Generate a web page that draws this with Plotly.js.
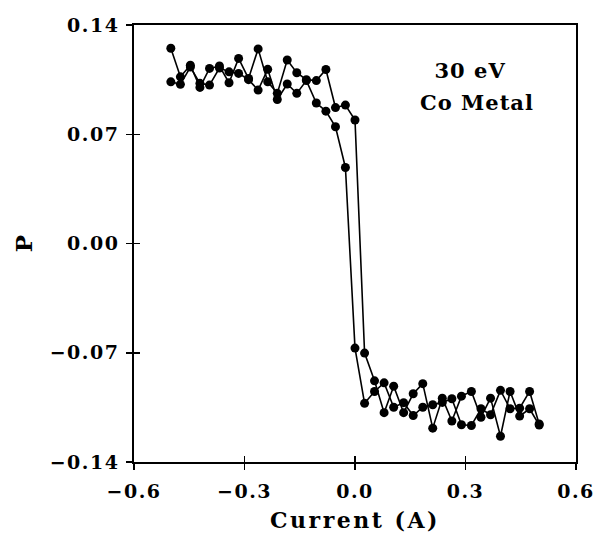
<!DOCTYPE html>
<html>
<head>
<meta charset="utf-8">
<script src="https://cdn.plot.ly/plotly-3.0.1.min.js"></script>
<style>
html,body{margin:0;padding:0;background:#fff;}
#plot{width:600px;height:535px;}
#plot .xtick text, #plot .ytick text{letter-spacing:1.5px;}
#plot .g-xtitle text{letter-spacing:2.5px;}
#plot .annotation text{letter-spacing:1px;}
</style>
</head>
<body>
<div id="plot"></div>
<script>
// Current (A) sample positions
const current = [-0.500,-0.474,-0.447,-0.421,-0.395,-0.368,-0.342,-0.316,-0.289,-0.263,
  -0.237,-0.211,-0.184,-0.158,-0.132,-0.105,-0.079,-0.053,-0.026,0.000,
  0.026,0.053,0.079,0.105,0.132,0.158,0.184,0.211,0.237,0.263,
  0.289,0.316,0.342,0.368,0.395,0.421,0.447,0.474,0.500];
// Branch that switches at positive current
const pBranchA = [0.1251,0.1068,0.1142,0.1000,0.1122,0.1137,0.1030,0.1186,0.1057,0.1247,
  0.1036,0.0962,0.1176,0.1094,0.1050,0.1044,0.1115,0.0871,0.0887,0.0791,
  -0.0702,-0.0880,-0.1084,-0.0914,-0.1084,-0.0963,-0.0898,-0.1183,-0.0991,-0.1137,
  -0.0978,-0.0948,-0.1113,-0.0991,-0.1235,-0.0948,-0.1106,-0.1059,-0.1163];
// Branch that switches at negative current
const pBranchB = [0.1036,0.1020,0.1131,0.1026,0.1015,0.1124,0.1100,0.1090,0.1050,0.0983,
  0.1116,0.0923,0.1022,0.0962,0.1044,0.0900,0.0848,0.0748,0.0487,-0.0670,
  -0.1024,-0.0948,-0.0893,-0.1049,-0.1020,-0.1102,-0.1049,-0.1033,-0.1018,-0.0995,
  -0.1161,-0.1166,-0.1059,-0.1097,-0.0941,-0.1059,-0.1055,-0.0948,-0.1156];
const xTicks = [-0.6,-0.3,0.0,0.3,0.6];
const xTickText = ['\u22120.6','\u22120.3','0.0','0.3','0.6'];
const yTicks = [-0.14,-0.07,0.00,0.07,0.14];
const yTickText = ['\u22120.14','\u22120.07','0.00','0.07','0.14'];

const FONT = 'DejaVu Serif, serif';
const mk = {color:'#000', size:9};
const ln = {color:'#000', width:1.6};
const traces = [
  {x: current, y: pBranchA, mode:'lines+markers', marker:mk, line:ln, xaxis:'x', yaxis:'y'},
  {x: current, y: pBranchB, mode:'lines+markers', marker:mk, line:ln, xaxis:'x', yaxis:'y'},
  {x: [], y: [], mode:'markers', xaxis:'x2', yaxis:'y2', hoverinfo:'skip'}
];
const xr = [-0.6, 0.6], yr = [-0.14, 0.14];
const tickFont = {family: FONT, size: 19, color:'#000', weight:'bold'};
const layout = {
  width:600, height:535,
  margin:{l:134, r:24, t:25, b:73, pad:0},
  paper_bgcolor:'#fff', plot_bgcolor:'#fff',
  showlegend:false,
  font:{family:FONT, color:'#000'},
  xaxis:{range:xr, tickvals:xTicks, ticktext:xTickText, ticks:'outside', ticklen:6, tickwidth:1.5,
    tickcolor:'#000', showline:true, linecolor:'#000', linewidth:1.8, mirror:true, showgrid:false,
    zeroline:false, tickfont:tickFont, ticklabelstandoff:5,
    title:{text:'Current (A)', font:{family:FONT, size:22, color:'#000', weight:'bold'}, standoff:12}},
  yaxis:{range:yr, tickvals:yTicks, ticktext:yTickText, ticks:'outside', ticklen:6, tickwidth:1.5,
    tickcolor:'#000', showline:true, linecolor:'#000', linewidth:1.8, mirror:true, showgrid:false,
    zeroline:false, tickfont:tickFont, ticklabelstandoff:3,
    title:{text:'P', font:{family:FONT, size:23, color:'#000', weight:'bold'}, standoff:18}},
  xaxis2:{range:xr, overlaying:'x', tickvals:xTicks, ticks:'inside', ticklen:6, tickwidth:1.5,
    tickcolor:'#000', showticklabels:false, showgrid:false, zeroline:false, showline:false, side:'bottom'},
  yaxis2:{range:yr, overlaying:'y', tickvals:yTicks, ticks:'inside', ticklen:6, tickwidth:1.5,
    tickcolor:'#000', showticklabels:false, showgrid:false, zeroline:false, showline:false, side:'left'},
  annotations:[
    {text:'30 eV', x:470, y:70},
    {text:'Co Metal', x:477, y:103}
  ]
};
// convert annotation pixel positions into paper fractions
const pw = 600-134-24, ph = 535-25-73;
layout.annotations = layout.annotations.map(a => ({
  text:a.text, showarrow:false, xref:'paper', yref:'paper',
  x:(a.x-134)/pw, y:1-(a.y-25)/ph, xanchor:'center', yanchor:'middle',
  font:{family:FONT, size:21, color:'#000', weight:'bold'}
}));
Plotly.newPlot('plot', traces, layout, {displayModeBar:false, staticPlot:true});
</script>
</body>
</html>
